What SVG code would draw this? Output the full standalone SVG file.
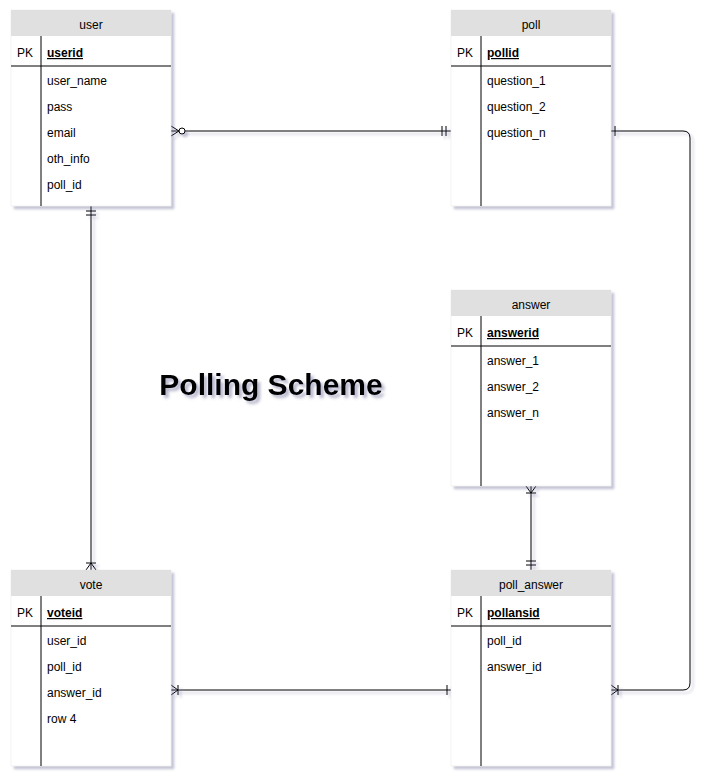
<svg xmlns="http://www.w3.org/2000/svg" width="716" height="782" viewBox="0 0 716 782">
<style>
text{font-family:"Liberation Sans",Arial,Helvetica,sans-serif;font-size:12px;fill:#000}
.hd{text-anchor:middle}
.pk{font-weight:bold;text-decoration:underline}
.body{fill:#fff;stroke:#e6e6e6;stroke-width:0.5}
.head{fill:#e0e0e0}
.ln{stroke:#000;stroke-width:1;fill:none}
.title{font-size:30px;font-weight:bold;text-anchor:middle}
</style>
<defs>
<filter id="sh" x="-10%" y="-10%" width="130%" height="130%">
<feDropShadow dx="3" dy="3" stdDeviation="1.2" flood-color="#5c5c8c" flood-opacity="0.35"/>
</filter>
<filter id="tsh" x="-10%" y="-30%" width="130%" height="180%">
<feDropShadow dx="3" dy="3" stdDeviation="1.5" flood-color="#5c5c8c" flood-opacity="0.45"/>
</filter>
<marker id="mandOne" markerUnits="userSpaceOnUse" markerWidth="24" markerHeight="24" viewBox="-12 -12 24 24" refX="0" refY="0" orient="auto-start-reverse" overflow="visible">
<path d="M-5,-5V5M-9,-5V5" stroke="#000" fill="none"/>
</marker>
<marker id="one" markerUnits="userSpaceOnUse" markerWidth="24" markerHeight="24" viewBox="-12 -12 24 24" refX="0" refY="0" orient="auto-start-reverse" overflow="visible">
<path d="M-4,-5V5" stroke="#000" fill="none"/>
</marker>
<marker id="oneToMany" markerUnits="userSpaceOnUse" markerWidth="24" markerHeight="24" viewBox="-12 -12 24 24" refX="0" refY="0" orient="auto-start-reverse" overflow="visible">
<path d="M0,-5L-7,0L0,5M-7,-5V5" stroke="#000" fill="none"/>
</marker>
<marker id="zeroToMany" markerUnits="userSpaceOnUse" markerWidth="24" markerHeight="24" viewBox="-12 -12 24 24" refX="0" refY="0" orient="auto-start-reverse" overflow="visible">
<path d="M0,-5L-8,0L0,5" stroke="#000" fill="none"/>
<circle cx="-11" cy="0" r="3" fill="#fff" stroke="#000"/>
</marker>
</defs>
<rect width="716" height="782" fill="#fff"/>

<g id="connectors" filter="url(#sh)">
<path class="ln" d="M171,131H451" marker-start="url(#zeroToMany)" marker-end="url(#mandOne)"/>
<path class="ln" d="M611,131H683Q690,131 690,138V683Q690,690 683,690H611" marker-start="url(#one)" marker-end="url(#oneToMany)"/>
<path class="ln" d="M91,206V570" marker-start="url(#mandOne)" marker-end="url(#oneToMany)"/>
<path class="ln" d="M531,486V570" marker-start="url(#oneToMany)" marker-end="url(#mandOne)"/>
<path class="ln" d="M171,690H451" marker-start="url(#oneToMany)" marker-end="url(#one)"/>
</g>

<g id="user">
<rect class="body" x="11" y="10" width="160" height="196" filter="url(#sh)"/>
<rect class="head" x="11" y="10" width="160" height="26"/>
<text class="hd" x="91" y="29">user</text>
<path class="ln" d="M11,66H171M41,36V206"/>
<text x="17" y="57">PK</text>
<text class="pk" x="47" y="57">userid</text>
<text x="47" y="85">user_name</text>
<text x="47" y="111">pass</text>
<text x="47" y="137">email</text>
<text x="47" y="163">oth_info</text>
<text x="47" y="189">poll_id</text>
</g>

<g id="poll">
<rect class="body" x="451" y="10" width="160" height="196" filter="url(#sh)"/>
<rect class="head" x="451" y="10" width="160" height="26"/>
<text class="hd" x="531" y="29">poll</text>
<path class="ln" d="M451,66H611M481,36V206"/>
<text x="457" y="57">PK</text>
<text class="pk" x="487" y="57">pollid</text>
<text x="487" y="85">question_1</text>
<text x="487" y="111">question_2</text>
<text x="487" y="137">question_n</text>
</g>

<g id="answer">
<rect class="body" x="451" y="290" width="160" height="196" filter="url(#sh)"/>
<rect class="head" x="451" y="290" width="160" height="26"/>
<text class="hd" x="531" y="309">answer</text>
<path class="ln" d="M451,346H611M481,316V486"/>
<text x="457" y="337">PK</text>
<text class="pk" x="487" y="337">answerid</text>
<text x="487" y="365">answer_1</text>
<text x="487" y="391">answer_2</text>
<text x="487" y="417">answer_n</text>
</g>

<g id="vote">
<rect class="body" x="11" y="570" width="160" height="196" filter="url(#sh)"/>
<rect class="head" x="11" y="570" width="160" height="26"/>
<text class="hd" x="91" y="589">vote</text>
<path class="ln" d="M11,626H171M41,596V766"/>
<text x="17" y="617">PK</text>
<text class="pk" x="47" y="617">voteid</text>
<text x="47" y="645">user_id</text>
<text x="47" y="671">poll_id</text>
<text x="47" y="697">answer_id</text>
<text x="47" y="723">row 4</text>
</g>

<g id="poll_answer">
<rect class="body" x="451" y="570" width="160" height="196" filter="url(#sh)"/>
<rect class="head" x="451" y="570" width="160" height="26"/>
<text class="hd" x="531" y="589">poll_answer</text>
<path class="ln" d="M451,626H611M481,596V766"/>
<text x="457" y="617">PK</text>
<text class="pk" x="487" y="617">pollansid</text>
<text x="487" y="645">poll_id</text>
<text x="487" y="671">answer_id</text>
</g>

<g id="title">
<text class="title" x="271" y="395" filter="url(#tsh)">Polling Scheme</text>
</g>
</svg>
